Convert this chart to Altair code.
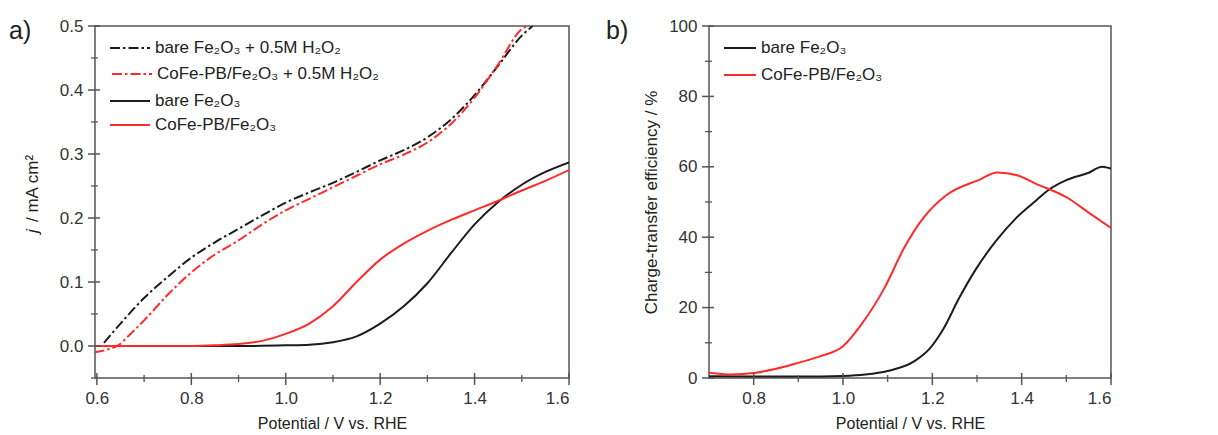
import altair as alt
import pandas as pd

# ---------------- Panel a data ----------------
a_bare_h2o2_x = [0.615, 0.65, 0.70, 0.75, 0.80, 0.85, 0.90, 0.95, 1.00, 1.05, 1.10, 1.15, 1.20, 1.25, 1.30, 1.35, 1.40, 1.45, 1.50, 1.523]
a_bare_h2o2_y = [0.005, 0.035, 0.075, 0.108, 0.138, 0.162, 0.183, 0.204, 0.224, 0.240, 0.255, 0.272, 0.290, 0.306, 0.326, 0.354, 0.392, 0.438, 0.485, 0.500]

a_cofe_h2o2_x = [0.595, 0.62, 0.645, 0.67, 0.70, 0.75, 0.80, 0.85, 0.90, 0.95, 1.00, 1.05, 1.10, 1.15, 1.20, 1.25, 1.30, 1.35, 1.40, 1.45, 1.50, 1.512]
a_cofe_h2o2_y = [-0.010, -0.006, 0.001, 0.018, 0.040, 0.080, 0.115, 0.143, 0.165, 0.190, 0.212, 0.230, 0.248, 0.266, 0.284, 0.299, 0.318, 0.347, 0.388, 0.440, 0.495, 0.500]

a_bare_x = [0.595, 0.80, 0.90, 1.00, 1.05, 1.10, 1.15, 1.20, 1.25, 1.30, 1.35, 1.40, 1.45, 1.50, 1.55, 1.60]
a_bare_y = [0.000, 0.000, 0.000, 0.001, 0.002, 0.006, 0.015, 0.035, 0.062, 0.098, 0.145, 0.190, 0.225, 0.252, 0.272, 0.287]

a_cofe_x = [0.595, 0.80, 0.85, 0.90, 0.95, 1.00, 1.05, 1.10, 1.15, 1.20, 1.25, 1.30, 1.35, 1.40, 1.45, 1.50, 1.55, 1.60]
a_cofe_y = [0.000, 0.000, 0.001, 0.003, 0.008, 0.019, 0.035, 0.062, 0.100, 0.135, 0.160, 0.180, 0.197, 0.212, 0.227, 0.243, 0.258, 0.275]

# ---------------- Panel b data ----------------
b_bare_x = [0.70, 0.80, 0.90, 1.00, 1.05, 1.10, 1.16, 1.195, 1.225, 1.26, 1.298, 1.343, 1.388, 1.433, 1.46, 1.50, 1.55, 1.58, 1.60]
b_bare_y = [0.5, 0.4, 0.4, 0.6, 1.0, 2.0, 4.8, 8.5, 14.0, 22.7, 31.0, 39.0, 45.5, 50.5, 53.4, 56.2, 58.3, 60.0, 59.5]

b_cofe_x = [0.70, 0.75, 0.80, 0.85, 0.90, 0.95, 1.00, 1.04, 1.093, 1.137, 1.18, 1.232, 1.305, 1.345, 1.39, 1.43, 1.505, 1.55, 1.60]
b_cofe_y = [1.5, 1.0, 1.4, 2.6, 4.3, 6.2, 9.0, 15.0, 25.6, 37.0, 45.5, 52.0, 56.3, 58.4, 57.6, 55.3, 51.0, 47.0, 42.6]

# tick values
a_x_major = [0.6, 0.8, 1.0, 1.2, 1.4, 1.6]
a_x_minor = [0.7, 0.9, 1.1, 1.3, 1.5]
a_y_major = [0.0, 0.1, 0.2, 0.3, 0.4, 0.5]
a_y_minor = [-0.05, 0.05, 0.15, 0.25, 0.35, 0.45]
b_x_major = [0.8, 1.0, 1.2, 1.4, 1.6]
b_x_minor = [0.9, 1.1, 1.3, 1.5]
b_y_major = [0, 20, 40, 60, 80, 100]
b_y_minor = [10, 30, 50, 70, 90]

# legend labels
a_labels = ["bare Fe\u2082O\u2083 + 0.5M H\u2082O\u2082",
            "CoFe-PB/Fe\u2082O\u2083 + 0.5M H\u2082O\u2082",
            "bare Fe\u2082O\u2083",
            "CoFe-PB/Fe\u2082O\u2083"]
b_labels = ["bare Fe\u2082O\u2083", "CoFe-PB/Fe\u2082O\u2083"]

BLACK = "#1c1c1c"
RED = "#ff2a2a"
FRAME = "#555555"
TXT = "#333333"
FONT = "Liberation Sans"
DASH = [10, 3, 2.5, 3]
W_A, W_B, H = 474, 402, 352


def series_df(xs, ys, name):
    return pd.DataFrame({"x": xs, "y": ys, "s": name})


def panel(series, xdom, ydom, xmaj, xmin, ymaj, ymin, xfmt, yfmt, width, ytitle, legend_rows, letter, letter_x):
    xs = alt.Scale(domain=xdom, nice=False, zero=False)
    ys = alt.Scale(domain=ydom, nice=False, zero=False)
    layers = []
    for df, color, dash in series:
        enc = dict(
            x=alt.X("x:Q", scale=xs,
                    axis=alt.Axis(values=xmaj, format=xfmt, title="Potential / V vs. RHE",
                                  ticks=False, domain=False, grid=False, labelPadding=12,
                                  labelFontSize=17, labelColor=TXT, labelFont=FONT,
                                  titleFontSize=16, titleFont=FONT, titleColor="#222",
                                  titleFontWeight="normal", titlePadding=9)),
            y=alt.Y("y:Q", scale=ys,
                    axis=alt.Axis(values=ymaj, format=yfmt, title=ytitle,
                                  ticks=False, domain=False, grid=False, labelPadding=12,
                                  labelFontSize=17, labelColor=TXT, labelFont=FONT,
                                  titleFontSize=17, titleFont=FONT, titleColor="#222",
                                  titleFontWeight="normal", titlePadding=8)),
        )
        mk = dict(color=color, strokeWidth=2, clip=True, interpolate="monotone")
        if dash:
            mk["strokeDash"] = dash
        layers.append(alt.Chart(df).mark_line(**mk).encode(**enc))

    # ticks crossing the frame (positions through the scales)
    def xt(vals, inner, outer, sw):
        d = pd.DataFrame({"x": vals})
        return alt.Chart(d).mark_rule(color=FRAME, strokeWidth=sw).encode(
            x=alt.X("x:Q", scale=xs), y=alt.value(H - inner), y2=alt.value(H + outer))

    def yt(vals, inner, outer, sw):
        d = pd.DataFrame({"y": vals})
        return alt.Chart(d).mark_rule(color=FRAME, strokeWidth=sw).encode(
            y=alt.Y("y:Q", scale=ys), x=alt.value(-outer), x2=alt.value(inner))

    layers += [xt(xmaj, 5, 7, 1.5), xt(xmin, 3, 4, 1.3), yt(ymaj, 5, 7, 1.5), yt(ymin, 3, 4, 1.3)]

    # legend
    for lab, color, dash, x0, x1, tx, yy in legend_rows:
        lk = dict(color=color, strokeWidth=2)
        if dash:
            lk["strokeDash"] = dash
        d = pd.DataFrame({"t": [lab]})
        layers.append(alt.Chart(d).mark_rule(**lk).encode(
            x=alt.value(x0), x2=alt.value(x1), y=alt.value(yy)))
        layers.append(alt.Chart(d).mark_text(align="left", baseline="middle", fontSize=17,
                                             font=FONT, color="#222").encode(
            text="t:N", x=alt.value(tx), y=alt.value(yy)))

    # panel letter
    ld = pd.DataFrame({"t": [letter]})
    layers.append(alt.Chart(ld).mark_text(align="left", baseline="alphabetic", fontSize=25,
                                          font=FONT, color="#222").encode(
        text="t:N", x=alt.value(letter_x), y=alt.value(13)))
    return alt.layer(*layers).properties(width=width, height=H)


a_series = [
    (series_df(a_bare_h2o2_x, a_bare_h2o2_y, "a1"), BLACK, DASH),
    (series_df(a_cofe_h2o2_x, a_cofe_h2o2_y, "a2"), RED, DASH),
    (series_df(a_bare_x, a_bare_y, "a3"), BLACK, None),
    (series_df(a_cofe_x, a_cofe_y, "a4"), RED, None),
]
a_leg = [
    (a_labels[0], BLACK, DASH, 15, 55, 60, 22),
    (a_labels[1], RED, DASH, 17, 57, 62, 48),
    (a_labels[2], BLACK, None, 15, 55, 60, 75),
    (a_labels[3], RED, None, 15, 55, 60, 99),
]
pa = panel(a_series, [0.596, 1.6], [-0.05, 0.5], a_x_major, a_x_minor, a_y_major, a_y_minor,
           ".1f", ".1f", W_A, None, a_leg, "a)", -86)

# y title for panel a with italic j
jt = pd.DataFrame({"t": ["j"]})
rt = pd.DataFrame({"t": ["/ mA cm\u00b2"]})
pa = alt.layer(
    pa,
    alt.Chart(jt).mark_text(angle=270, align="left", baseline="alphabetic", fontSize=17,
                            font=FONT, fontStyle="italic", color="#222").encode(
        text="t:N", x=alt.value(-57), y=alt.value(207)),
    alt.Chart(rt).mark_text(angle=270, align="left", baseline="alphabetic", fontSize=17,
                            font=FONT, color="#222").encode(
        text="t:N", x=alt.value(-57), y=alt.value(196)),
).properties(width=W_A, height=H)

b_series = [
    (series_df(b_bare_x, b_bare_y, "b1"), BLACK, None),
    (series_df(b_cofe_x, b_cofe_y, "b2"), RED, None),
]
b_leg = [
    (b_labels[0], BLACK, None, 15, 47, 52, 22),
    (b_labels[1], RED, None, 15, 47, 52, 49),
]
pb = panel(b_series, [0.7, 1.6], [0, 100], b_x_major, b_x_minor, b_y_major, b_y_minor,
           ".1f", "d", W_B, "Charge-transfer efficiency / %", b_leg, "b)", -103)

chart = alt.hconcat(pa, pb, spacing=34).properties(
    padding={"left": 0, "top": 8, "right": 5, "bottom": 5},
    background="white",
).configure_view(stroke=FRAME, strokeWidth=1.5)

chart.save("out.html", embed_options={"renderer": "svg", "actions": False})
